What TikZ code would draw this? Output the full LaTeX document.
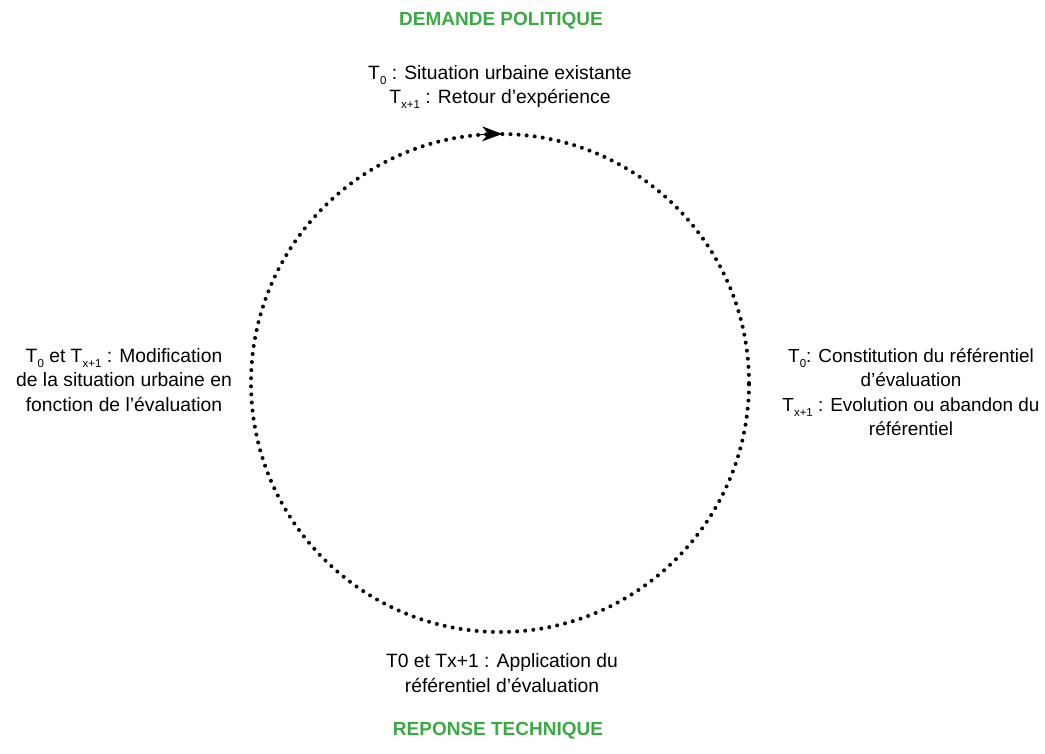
\documentclass[tikz,border=0pt]{standalone}
\usepackage{fontspec}
\setmainfont{Liberation Sans}
\usetikzlibrary{arrows.meta,calc}
\definecolor{titlegreen}{RGB}{59,170,69}
\newcommand{\lowsub}[1]{\raisebox{-0.5ex}{\fontsize{11.5}{11.5}\selectfont #1}}

\begin{document}
\begin{tikzpicture}[x=1pt, y=1pt,
        every node/.style={font=\fontsize{19.3}{24.5}\selectfont, align=center},
        title/.style={color=titlegreen, font=\fontsize{19}{23}\selectfont\bfseries},
        dots/.style={line width=4pt, line cap=round, dash pattern=on 0pt off 8.1pt}]
        \useasboundingbox (0,0) rectangle (1045,753);
        \coordinate (ctr) at (500,370);

        \node (demande) [title] at (501,732) {DEMANDE POLITIQUE};
        \node (reponse) [title] at (498,22) {REPONSE TECHNIQUE};

        \node (situation) at (500,666) {T\lowsub{0} : Situation urbaine existante\\
            T\lowsub{x+1} : Retour d’expérience};
        \node (modif) at (124,373) {T\lowsub{0} et T\lowsub{x+1} : Modification\\
            de la situation urbaine en\\fonction de l’évaluation};
        \node (refer) [font=\fontsize{18.9}{24.5}\selectfont] at (911,361)
            {T\lowsub{0}: Constitution du référentiel\\
            d’évaluation\\T\lowsub{x+1} : Evolution ou abandon du\\référentiel};
        \node (appli) at (502,80) {T0 et Tx+1 : Application du\\référentiel d’évaluation};

        % the cycle
        \draw[dots] (ctr) circle[radius=249];
        \draw[-{Stealth[length=20pt, width=15pt, inset=6pt]}, line width=1pt]
            ($(ctr)+(95:249)$) arc[start angle=95, end angle=89.5, radius=249];
    \end{tikzpicture}
\end{document}
